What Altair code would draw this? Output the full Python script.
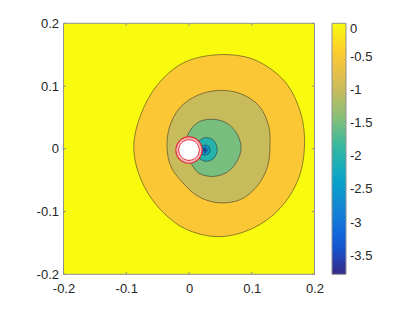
import altair as alt
import pandas as pd

# ---------------- data ----------------
X_LIM = [-0.2, 0.2]
Y_LIM = [-0.2, 0.2]
TICKS = [-0.2, -0.1, 0.0, 0.1, 0.2]
CBAR_TICKS = [0, -0.5, -1, -1.5, -2, -2.5, -3, -3.5]
CBAR_MIN = -3.78
PARULA = ["#352a87", "#0f5cdd", "#1481d6", "#06a4ca", "#2eb7a4",
          "#87bf77", "#d1bb59", "#fec832", "#f9fb0e"]

# contour -0.5
C05_X = [0.184, 0.178, 0.152, 0.104, 0.047, -0.009, -0.051, -0.077,
         -0.088, -0.077, -0.049, -0.007, 0.047, 0.101, 0.145, 0.174]
C05_Y = [0.003, 0.057, 0.108, 0.142, 0.150, 0.137, 0.101, 0.054,
         0.003, -0.048, -0.093, -0.127, -0.140, -0.127, -0.095, -0.049]
# contour -1
C10_X = [0.129, 0.127, 0.112, 0.082, 0.047, 0.013, -0.015, -0.031,
         -0.035, -0.029, -0.010, 0.015, 0.047, 0.082, 0.109, 0.125]
C10_Y = [0.003, 0.036, 0.068, 0.088, 0.093, 0.085, 0.065, 0.035,
         0.003, -0.028, -0.054, -0.076, -0.086, -0.081, -0.059, -0.029]
# contour -1.5
C15_X = [0.083, 0.077, 0.0615, 0.039, 0.015, -0.001, -0.005, 0.002, 0.016, 0.039, 0.061, 0.076]
C15_Y = [0.001, 0.023, 0.040, 0.047, 0.0426, 0.024, 0.001, -0.0205, -0.039, -0.044, -0.037, -0.0205]
# contour -2
C20_X = [0.028, 0.040, 0.045, 0.040, 0.028, 0.016, 0.011, 0.016]
C20_Y = [0.018, 0.0125, -0.001, -0.0145, -0.020, -0.0145, -0.001, 0.0125]
# contour -2.5
C25_X = [0.0255, 0.0312, 0.0335, 0.0312, 0.0255, 0.0198, 0.0175, 0.0198]
C25_Y = [0.006, 0.0037, -0.002, -0.0077, -0.010, -0.0077, -0.002, 0.0037]
# contour -3
C30_X = [0.025, 0.0278, 0.029, 0.0278, 0.025, 0.0222, 0.021, 0.0222]
C30_Y = [0.002, 0.0008, -0.002, -0.0048, -0.006, -0.0048, -0.002, 0.0008]
# contour -3.5
C35_X = [0.025, 0.0261, 0.0266, 0.0261, 0.025, 0.0239, 0.0234, 0.0239]
C35_Y = [-0.0004, -0.0009, -0.002, -0.0031, -0.0036, -0.0031, -0.002, -0.0009]

# white disk with red rings
WD_X = [0, 0.0146, 0.0207, 0.0146, 0, -0.0146, -0.0207, -0.0146]
WD_Y = [0.0187, 0.0126, -0.002, -0.0166, -0.0227, -0.0166, -0.002, 0.0126]
RP_X = [0, 0.0132, 0.0186, 0.0132, 0, -0.0132, -0.0186, -0.0132]
RP_Y = [0.0166, 0.0112, -0.002, -0.0152, -0.0206, -0.0152, -0.002, 0.0112]
RI_X = [0, 0.0117, 0.0165, 0.0117, 0, -0.0117, -0.0165, -0.0117]
RI_Y = [0.0145, 0.0097, -0.002, -0.0137, -0.0185, -0.0137, -0.002, 0.0097]

# ---------------- build tables ----------------
shapes = [("c05", -0.5, C05_X, C05_Y), ("c10", -1.0, C10_X, C10_Y),
          ("c15", -1.5, C15_X, C15_Y), ("c20", -2.0, C20_X, C20_Y),
          ("c25", -2.5, C25_X, C25_Y), ("c30", -3.0, C30_X, C30_Y),
          ("c35", -3.5, C35_X, C35_Y), ("wd", 0.0, WD_X, WD_Y),
          ("rp", 0.0, RP_X, RP_Y), ("ri", 0.0, RI_X, RI_Y)]
rows = []
for name, lev, xs, ys in shapes:
    for i, (a, b) in enumerate(zip(xs, ys)):
        rows.append({"name": name, "level": lev, "idx": i, "x": a, "y": b})
df = pd.DataFrame(rows)
bg = pd.DataFrame({"x0": [X_LIM[0]], "x1": [X_LIM[1]], "y0": [Y_LIM[0]], "y1": [Y_LIM[1]], "level": [0.0]})
ticks = pd.DataFrame({"v": TICKS})

FONT = "Liberation Sans"
XS = alt.Scale(domain=X_LIM, nice=False, zero=False)
YS = alt.Scale(domain=Y_LIM, nice=False, zero=False)
XA = alt.Axis(values=TICKS, labelExpr="datum.value + ''", tickSize=0, ticks=False, domain=False,
              grid=False, labelFontSize=13, labelFont=FONT, labelColor="#262626", labelPadding=8,
              labelFlush=False, labelOverlap=False, title=None)
YA = alt.Axis(values=TICKS, labelExpr="datum.value + ''", tickSize=0, ticks=False, domain=False,
              grid=False, labelFontSize=13, labelFont=FONT, labelColor="#262626", labelPadding=5,
              labelFlush=False, labelOverlap=False, title=None)
CS = alt.Scale(domain=[CBAR_MIN, 0], range=PARULA, interpolate="rgb")
LEG = alt.Legend(orient="none", legendX=268.5, legendY=0, direction="vertical",
                 gradientLength=251, gradientThickness=14, title=None, values=CBAR_TICKS,
                 labelExpr="datum.value + ''", labelFontSize=13, labelFont=FONT,
                 labelColor="#262626", labelOffset=4, labelBaseline="middle",
                 labelOverlap=False, gradientStrokeColor="#909090", gradientStrokeWidth=1,
                 padding=0)


def X(f):
    return alt.X(f, type="quantitative", scale=XS, axis=XA)


def Y(f):
    return alt.Y(f, type="quantitative", scale=YS, axis=YA)


FILL = alt.Fill("level:Q", scale=CS, legend=LEG)

layers = []
layers.append(alt.Chart(bg).mark_rect().encode(x=X("x0"), x2="x1", y=Y("y0"), y2="y1", fill=FILL))

for name in ["c05", "c10", "c15", "c20", "c25", "c30", "c35"]:
    layers.append(
        alt.Chart(df).transform_filter(alt.datum.name == name)
        .mark_line(interpolate="cardinal-closed", stroke="#222222", strokeWidth=0.6, strokeOpacity=0.85)
        .encode(x=X("x"), y=Y("y"), order="idx:Q", fill=FILL)
    )

layers.append(
    alt.Chart(df).transform_filter(alt.datum.name == "wd")
    .mark_line(interpolate="cardinal-closed", fill="white", stroke="#e3262e", strokeWidth=1.4)
    .encode(x=X("x"), y=Y("y"), order="idx:Q")
)
layers.append(
    alt.Chart(df).transform_filter(alt.datum.name == "rp")
    .mark_line(interpolate="cardinal-closed", stroke="#f5b5b8", strokeWidth=1.6)
    .encode(x=X("x"), y=Y("y"), order="idx:Q")
)
layers.append(
    alt.Chart(df).transform_filter(alt.datum.name == "ri")
    .mark_line(interpolate="cardinal-closed", stroke="#e3262e", strokeWidth=1.0)
    .encode(x=X("x"), y=Y("y"), order="idx:Q")
)

TICK_COLOR = "#909090"
TL = 2.5
layers.append(alt.Chart(ticks).mark_rule(color=TICK_COLOR, strokeWidth=1)
              .encode(x=X("v"), y=alt.value(251), y2=alt.value(251 - TL)))
layers.append(alt.Chart(ticks).mark_rule(color=TICK_COLOR, strokeWidth=1)
              .encode(x=X("v"), y=alt.value(0), y2=alt.value(TL)))
layers.append(alt.Chart(ticks).mark_rule(color=TICK_COLOR, strokeWidth=1)
              .encode(y=Y("v"), x=alt.value(0), x2=alt.value(TL)))
layers.append(alt.Chart(ticks).mark_rule(color=TICK_COLOR, strokeWidth=1)
              .encode(y=Y("v"), x=alt.value(251), x2=alt.value(251 - TL)))
layers.append(alt.Chart(bg).mark_rect(filled=False, stroke=TICK_COLOR, strokeWidth=1)
              .encode(x=alt.value(0), x2=alt.value(251), y=alt.value(0), y2=alt.value(251)))

chart = alt.layer(*layers).properties(
    width=251, height=251,
    autosize=alt.AutoSizeParams(type="none"),
    padding={"left": 55.5, "top": 15.3, "right": 88.5, "bottom": 26.7},
    background="white",
).configure_view(strokeWidth=0)

chart.save("out.html", embed_options={"renderer": "svg", "actions": False})
